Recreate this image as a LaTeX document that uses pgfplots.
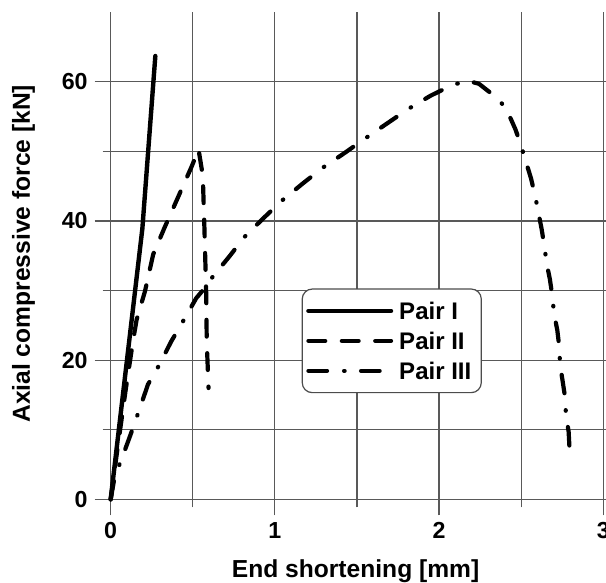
\documentclass[border=0pt]{standalone}
\usepackage{fontspec}
\setmainfont{Liberation Sans}
\usepackage{pgfplots}
\pgfplotsset{compat=1.18}
\begin{document}
\begin{tikzpicture}
\begin{axis}[
  x=82.1pt, y=3.48pt,
  xmin=0, xmax=3.05, ymin=0, ymax=70,
  axis line style={draw=none},
  tick pos=left,
  tick align=outside,
  xtick={0,1,2,3}, minor xtick={0.5,1.5,2.5},
  ytick={0,20,40,60}, minor ytick={10,30,50},
  major tick length=8pt, minor tick length=4pt,
  every tick/.style={black!65, line width=0.6pt},
  grid=both,
  major grid style={black!65, line width=0.6pt},
  minor grid style={black!65, line width=0.6pt},
  /pgf/number format/assume math mode=true,
  ticklabel style={font=\fontsize{11.6}{13}\selectfont\bfseries},
  xlabel={End shortening [mm]},
  ylabel={Axial compressive force [kN]},
  label style={font=\fontsize{12.3}{14}\selectfont\bfseries},
  xlabel style={at={(axis description cs:0.489,-0.1595)}, anchor=base},
  ylabel style={at={(axis description cs:-0.1740,0.504)}, anchor=center},
  clip=false,
  legend style={at={(axis cs:1.163,30.3)}, anchor=north west,
    draw=black!70, line width=0.6pt, rounded corners=5pt,
    inner xsep=2pt, inner ysep=6.6pt,
    font=\fontsize{12}{13}\selectfont\bfseries,
    row sep=6.4pt,
    nodes={inner xsep=3pt, inner ysep=0pt, text height=8.6pt, text depth=0pt}},
  legend cell align=left,
  legend image code/.code={\draw[#1, rounded corners=0pt] (0pt,0pt) -- (41.3pt,0pt);},
]
\addplot[black, line width=2.2pt, line cap=round, line join=round] coordinates {
  (0,0) (0.193,38.9) (0.272,63.7)};
\addlegendentry{Pair I}
\addplot[black, line width=2.1pt, line cap=round, line join=round,
  dash pattern=on 8.4pt off 8.3pt] coordinates {
  (0,0) (0.04,7) (0.09,15.5) (0.137,22.9) (0.158,25.8) (0.209,29.9) (0.259,35.2)
  (0.331,39.2) (0.412,43.5) (0.493,47.8) (0.535,50.3) (0.561,46.5) (0.571,38.9)
  (0.582,29.4) (0.585,22.7) (0.596,16)};
\addlegendentry{Pair II}
\addplot[black, line width=2.1pt, line cap=round, line join=round,
  dash pattern=on 9.3pt off 8.5pt on 0.3pt off 8.2pt] coordinates {
  (0,0) (0.024,3.2) (0.065,5.7) (0.115,8.9) (0.172,12.7) (0.227,16.5) (0.298,19.4)
  (0.369,22.7) (0.446,25.8) (0.521,28.9) (0.571,30.3) (0.622,32) (0.723,34.9)
  (0.815,37.7) (0.926,40.3) (1.047,43.0) (1.171,45.4) (1.295,47.7) (1.427,49.8)
  (1.553,51.9) (1.683,54.0) (1.813,56.1) (1.949,58.0) (2.087,59.6) (2.18,60.1)
  (2.243,59.7) (2.367,57.4) (2.421,55.5) (2.466,53.1) (2.499,50.8) (2.529,48.5)
  (2.56,46.1) (2.584,43.7) (2.604,41.3) (2.624,38.9) (2.641,36.4) (2.655,33.9)
  (2.675,31.6) (2.689,29.3) (2.700,26.7) (2.720,24.3) (2.732,21.9) (2.737,19.3)
  (2.753,16.9) (2.767,14.7) (2.773,12.1) (2.789,9.7) (2.795,7.0)};
\addlegendentry{Pair III}
\coordinate (bl) at (axis cs:-0.674,-11.88);
\coordinate (tr) at (axis cs:3.0165,71.74);
\end{axis}
\pgfresetboundingbox
\path[use as bounding box] (bl) rectangle (tr);
\end{tikzpicture}
\end{document}
